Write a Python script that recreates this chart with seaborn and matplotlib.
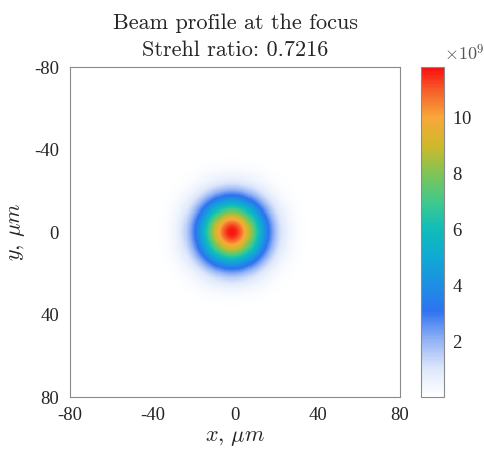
import numpy as np
import pandas as pd
import matplotlib
matplotlib.use("Agg")
import matplotlib.pyplot as plt
from matplotlib.colors import LinearSegmentedColormap
from matplotlib.ticker import ScalarFormatter
import seaborn as sns

# Beam parameters at the focus
strehl_ratio = 0.7216
peak_intensity = 11.75e9      # peak of the focal spot
center_x = -1.5               # spot centre, micrometres
center_y = 0.0
spot_sigma = 11.0             # Gaussian width, micrometres

# Observation window
x_limits = [-80, 80]
y_limits = [-80, 80]
tick_values = [-80, -40, 0, 40, 80]
cbar_ticks = [2e9, 4e9, 6e9, 8e9, 10e9]
cbar_exponent = 9
cell = 0.5

sns.set_theme(style="white")
plt.rcParams["font.family"] = ["Liberation Serif", "DejaVu Serif"]
plt.rcParams["mathtext.fontset"] = "cm"
plt.rcParams["axes.unicode_minus"] = False

# Cell-centred sampling grid
xs = np.arange(x_limits[0] + cell / 2, x_limits[1], cell)
ys = np.arange(y_limits[0] + cell / 2, y_limits[1], cell)
X, Y = np.meshgrid(xs, ys)
intensity = peak_intensity * np.exp(-((X - center_x) ** 2 + (Y - center_y) ** 2) / (2 * spot_sigma ** 2))
frame = pd.DataFrame(intensity, index=ys, columns=xs)

cmap = LinearSegmentedColormap.from_list(
    "beam",
    [
        (0.00, "#ffffff"),
        (0.085, "#dde7fb"),
        (0.17, "#93b3f5"),
        (0.26, "#2e73f0"),
        (0.34, "#1d8fe2"),
        (0.42, "#10a8d4"),
        (0.51, "#10bdb8"),
        (0.59, "#3ec98e"),
        (0.68, "#80c455"),
        (0.76, "#cdb92b"),
        (0.85, "#f9a73a"),
        (0.93, "#f5602a"),
        (1.00, "#fa0f0f"),
    ],
)

fig = plt.figure(figsize=(4.84, 4.53), dpi=100)
ax = fig.add_axes([0.1446, 0.1236, 0.682, 0.728])
cax = fig.add_axes([0.870, 0.1236, 0.0475, 0.728])

sns.heatmap(frame, ax=ax, cmap=cmap, vmin=0, vmax=11.8e9, cbar_ax=cax,
            xticklabels=False, yticklabels=False, rasterized=True)

# Map data coordinates onto heatmap cell indices
pos_x = [(v - x_limits[0]) / cell for v in tick_values]
pos_y = [(v - y_limits[0]) / cell for v in tick_values]
ax.set_xticks(pos_x)
ax.set_xticklabels([str(v) for v in tick_values])
ax.set_yticks(pos_y)
ax.set_yticklabels([str(v) for v in tick_values], rotation=0)

edge = "#8a8a8a"
text_color = "#262626"
for side in ["left", "right", "top", "bottom"]:
    ax.spines[side].set_visible(True)
    ax.spines[side].set_color(edge)
    ax.spines[side].set_linewidth(0.8)
ax.tick_params(axis="both", direction="in", length=3, width=0.6, color=edge,
               labelsize=13.5, labelcolor=text_color, top=True, right=True,
               bottom=True, left=True)
ax.tick_params(axis="x", pad=7)
ax.tick_params(axis="y", pad=8)

ax.set_xlabel(r"$x,\,\mu m$", fontsize=16, color=text_color, labelpad=4)
ax.set_ylabel(r"$y,\,\mu m$", fontsize=16, color=text_color, labelpad=5)
ax.set_title(f"Beam profile at the focus\nStrehl ratio: {strehl_ratio:.4f}",
             family="cmr10", fontsize=16, color=text_color, pad=8,
             linespacing=1.5)

# Colorbar styling: mantissa tick labels with a common power of ten on top
cbar = ax.collections[0].colorbar
cbar.set_ticks(cbar_ticks)
fmt = ScalarFormatter(useMathText=True)
fmt.set_powerlimits((cbar_exponent, cbar_exponent))
cbar.formatter = fmt
cbar.update_ticks()
cax.yaxis.get_offset_text().set_visible(False)
cax.text(1.0, 1.01, r"$\times10^{%d}$" % cbar_exponent, transform=cax.transAxes,
         ha="left", va="bottom", fontsize=13, color="#555555")
cbar.outline.set_visible(True)
cbar.outline.set_edgecolor(edge)
cbar.outline.set_linewidth(0.8)
cax.tick_params(direction="in", length=3, width=0.6, color="#444444",
                labelsize=13.5, labelcolor=text_color, pad=6)

fig.savefig("out.png", dpi=100)
